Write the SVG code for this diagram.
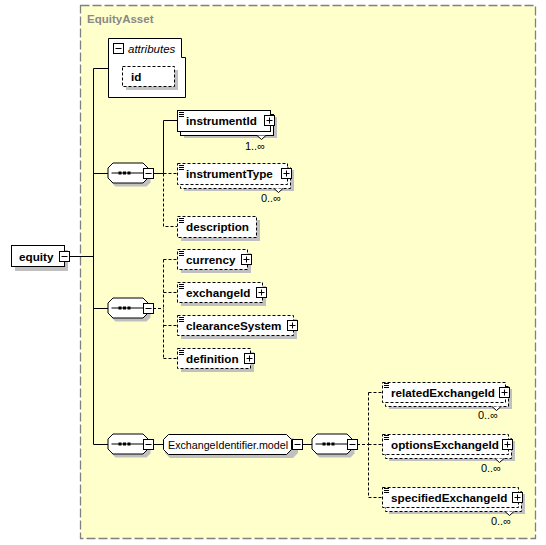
<svg xmlns="http://www.w3.org/2000/svg" width="546" height="545" viewBox="0 0 546 545">
<style>
.bg{fill:#FFFFCC;stroke:#808080;stroke-width:1.3;stroke-dasharray:9,3}
.box{fill:#fff;stroke:#000;stroke-width:1}
.dbox{fill:#fff;stroke:#000;stroke-width:1;stroke-dasharray:3,2}
.sh{fill:#C0C0C0;stroke:none}
.ln{fill:none;stroke:#000;stroke-width:1}
.dl{fill:none;stroke:#000;stroke-width:1;stroke-dasharray:3,2}
.t{font-family:"Liberation Sans",Arial,sans-serif;font-size:11.7px;font-weight:bold;fill:#000}
.tr{font-family:"Liberation Sans",Arial,sans-serif;font-size:10.7px;fill:#000}
.c{font-family:"Liberation Sans",Arial,sans-serif;font-size:11px;fill:#000;text-anchor:end}
.ttl{font-family:"Liberation Sans",Arial,sans-serif;font-size:11.5px;font-weight:bold;fill:#888}
.ti{font-family:"Liberation Sans",Arial,sans-serif;font-size:11.5px;font-style:italic;fill:#000}
</style>
<defs>
<g id="plus"><rect x="1" y="1" width="10" height="10" fill="#000"/><rect x="0.5" y="0.5" width="10" height="10" class="box"/><path d="M2.5 5.5H8.5M5.5 2.5V8.5" class="ln"/></g>
<g id="minus"><rect x="1" y="1" width="10" height="10" fill="#000"/><rect x="0.5" y="0.5" width="10" height="10" class="box"/><path d="M2.5 5.5H8.5" class="ln"/></g>
<g id="icon"><path d="M2 1.5H7M2 3.5H7M2 5.5H7" stroke="#000" stroke-width="1"/></g>
<g id="seq"><polygon points="8,4 39,4 43,8 43,20 39,24 8,24 4,20 4,8" class="sh"/><polygon points="5.5,0.5 35.5,0.5 40.5,5.5 40.5,15.5 35.5,20.5 5.5,20.5 0.5,15.5 0.5,5.5" class="box"/><path d="M4 10.5H37" class="ln"/><rect x="11" y="9" width="3" height="3" fill="#000"/><rect x="15.5" y="9" width="3" height="3" fill="#000"/><rect x="20" y="9" width="3" height="3" fill="#000"/></g>
</defs>

<rect x="80.5" y="5.5" width="455" height="533" class="bg"/>
<text x="87" y="23" class="ttl">EquityAsset</text>

<g id="connectors">
<path d="M69 256.5H93.5M93.5 68.5V444.5M93.5 68.5H108M93.5 173.5H108M93.5 308.5H108M93.5 444.5H108" class="ln"/>
<path d="M153 173.5H163.5M163.5 120.5V173.5M163.5 120.5H177" class="ln"/>
<path d="M163.5 173.5H177M163.5 173.5V226.5H177" class="dl"/>
<path d="M153 308.5H163.5M163.5 259.5V358.5M163.5 259.5H177M163.5 292.5H177M163.5 325.5H177M163.5 358.5H177" class="dl"/>
<path d="M153 444.5H163M302 444.5H312" class="ln"/>
<path d="M357 444.5H368.5M368.5 392.5V497.5M368.5 392.5H382M368.5 444.5H382M368.5 497.5H382" class="dl"/>
</g>

<g id="equity">
<rect x="15" y="250" width="53" height="21" class="sh"/>
<rect x="11.5" y="245.5" width="53" height="21" class="box"/>
<text x="19" y="260.5" class="t">equity</text>
<use href="#minus" x="59" y="251"/>
</g>

<g id="attributes">
<path d="M108.5 38.5H181.5V57.5H185.5V97.5H108.5Z" class="box"/>
<use href="#minus" x="113" y="43"/>
<text x="128" y="52.5" class="ti">attributes</text>
<g id="attr-id">
<rect x="126" y="70" width="52" height="20" class="sh"/>
<rect x="122.5" y="66.5" width="52" height="20" class="dbox"/>
<text x="131" y="80.5" class="t">id</text>
</g>
</g>

<g id="seq1"><use href="#seq" x="107.5" y="162.5"/><use href="#minus" x="143" y="168"/></g>
<g id="seq2"><use href="#seq" x="107.5" y="297.5"/><use href="#minus" x="143" y="303"/></g>
<g id="seq3"><use href="#seq" x="107.5" y="433.5"/><use href="#minus" x="143" y="439"/></g>

<g id="instrumentId">
<rect x="184" y="117" width="93" height="21" class="sh"/>
<rect x="180.5" y="114.5" width="93" height="21" class="box"/>
<path d="M257 135.5L261.5 139.5L266 135.5" fill="#fff" stroke="#000"/>
<rect x="177.5" y="110.5" width="93" height="21" class="box"/>
<use href="#icon" x="177" y="111"/>
<text x="186" y="125" class="t">instrumentId</text>
<use href="#plus" x="264" y="115"/>
<text x="265" y="149.5" class="c">1..∞</text>
</g>

<g id="instrumentType">
<rect x="184" y="170" width="110" height="21" class="sh"/>
<rect x="180.5" y="167.5" width="110" height="21" class="dbox"/>
<path d="M274 188.5L278.5 192.5L283 188.5" fill="#fff" stroke="#000"/>
<rect x="177.5" y="163.5" width="110" height="21" class="dbox"/>
<use href="#icon" x="177" y="164"/>
<text x="186" y="178" class="t">instrumentType</text>
<use href="#plus" x="281" y="168"/>
<text x="281" y="202" class="c">0..∞</text>
</g>

<g id="description">
<rect x="181" y="220" width="79" height="21" class="sh"/>
<rect x="177.5" y="216.5" width="79" height="21" class="dbox"/>
<use href="#icon" x="177" y="217"/>
<text x="186" y="231" class="t">description</text>
</g>

<g id="currency">
<rect x="181" y="253" width="70" height="20" class="sh"/>
<rect x="177.5" y="249.5" width="70" height="20" class="dbox"/>
<use href="#icon" x="177" y="250"/>
<text x="186" y="263.5" class="t">currency</text>
<use href="#plus" x="241" y="254"/>
</g>

<g id="exchangeId">
<rect x="181" y="286" width="85" height="20" class="sh"/>
<rect x="177.5" y="282.5" width="85" height="20" class="dbox"/>
<use href="#icon" x="177" y="283"/>
<text x="186" y="296.5" class="t">exchangeId</text>
<use href="#plus" x="256" y="287"/>
</g>

<g id="clearanceSystem">
<rect x="181" y="319" width="116" height="20" class="sh"/>
<rect x="177.5" y="315.5" width="116" height="20" class="dbox"/>
<use href="#icon" x="177" y="316"/>
<text x="186" y="329.5" class="t">clearanceSystem</text>
<use href="#plus" x="287" y="320"/>
</g>

<g id="definition">
<rect x="181" y="352" width="73" height="20" class="sh"/>
<rect x="177.5" y="348.5" width="73" height="20" class="dbox"/>
<use href="#icon" x="177" y="349"/>
<text x="186" y="362.5" class="t">definition</text>
<use href="#plus" x="244" y="353"/>
</g>

<g id="ExchangeIdentifier.model">
<polygon points="170,438 293,438 298,443 298,453 293,458 170,458 165,453 165,443" class="sh"/>
<polygon points="168.5,434.5 286.5,434.5 291.5,439.5 291.5,449.5 286.5,454.5 168.5,454.5 163.5,449.5 163.5,439.5" class="box"/>
<text x="168" y="448.5" class="tr">ExchangeIdentifier.model</text>
<use href="#minus" x="292" y="439"/>
</g>

<g id="seq4"><use href="#seq" x="311.5" y="433.5"/><use href="#minus" x="347" y="439"/></g>

<g id="relatedExchangeId">
<rect x="389" y="389" width="123" height="20" class="sh"/>
<rect x="385.5" y="386.5" width="123" height="20" class="dbox"/>
<path d="M492 406.5L496.5 410.5L501 406.5" fill="#fff" stroke="#000"/>
<rect x="382.5" y="382.5" width="123" height="20" class="dbox"/>
<use href="#icon" x="382" y="382"/>
<text x="391" y="396.5" class="t">relatedExchangeId</text>
<use href="#plus" x="499" y="387"/>
<text x="498" y="419" class="c">0..∞</text>
</g>

<g id="optionsExchangeId">
<rect x="389" y="441" width="126" height="20" class="sh"/>
<rect x="385.5" y="438.5" width="126" height="20" class="dbox"/>
<path d="M495 458.5L499.5 462.5L504 458.5" fill="#fff" stroke="#000"/>
<rect x="382.5" y="434.5" width="126" height="20" class="dbox"/>
<use href="#icon" x="382" y="434"/>
<text x="391" y="448.5" class="t">optionsExchangeId</text>
<use href="#plus" x="502" y="439"/>
<text x="501" y="472" class="c">0..∞</text>
</g>

<g id="specifiedExchangeId">
<rect x="389" y="494" width="136" height="20" class="sh"/>
<rect x="385.5" y="491.5" width="136" height="20" class="dbox"/>
<path d="M505 511.5L509.5 515.5L514 511.5" fill="#fff" stroke="#000"/>
<rect x="382.5" y="487.5" width="136" height="20" class="dbox"/>
<use href="#icon" x="382" y="487"/>
<text x="391" y="501.5" class="t">specifiedExchangeId</text>
<use href="#plus" x="512" y="492"/>
<text x="511" y="525" class="c">0..∞</text>
</g>
</svg>
